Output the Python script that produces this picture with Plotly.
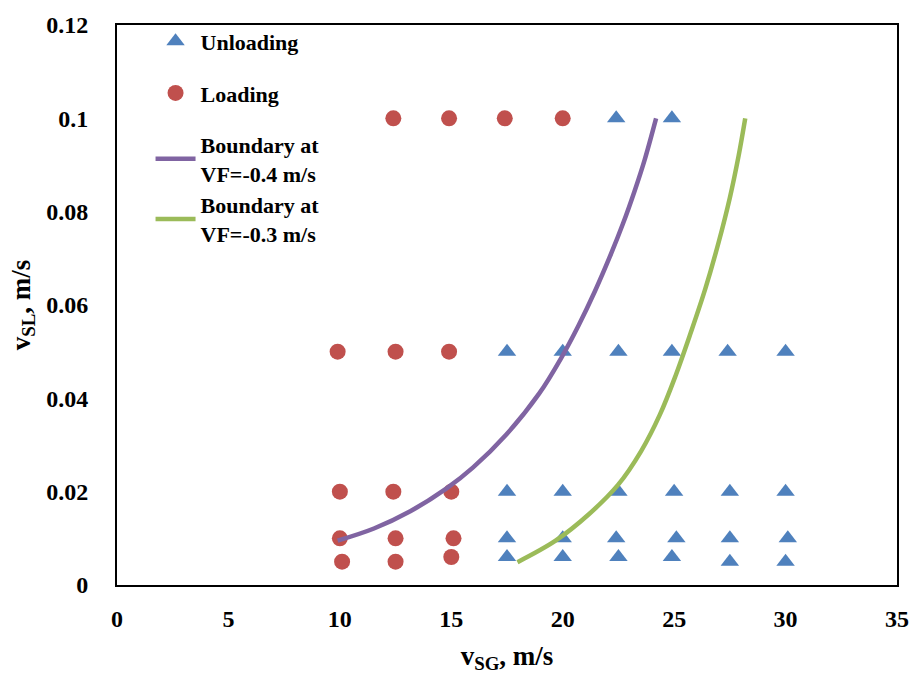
import plotly.graph_objects as go

# Data
unload_x = [22.4, 24.9,
            17.5, 20.0, 22.5, 24.9, 27.4, 30.0,
            17.5, 20.0, 22.5, 25.0, 27.5, 30.0,
            17.5, 20.0, 22.4, 25.1, 27.5, 30.1,
            17.5, 20.0, 22.5, 24.9, 27.5, 30.0]
unload_y = [0.1, 0.1,
            0.05, 0.05, 0.05, 0.05, 0.05, 0.05,
            0.02, 0.02, 0.02, 0.02, 0.02, 0.02,
            0.01, 0.01, 0.01, 0.01, 0.01, 0.01,
            0.006, 0.006, 0.006, 0.006, 0.005, 0.005]

load_x = [12.4, 14.9, 17.4, 20.0,
          9.9, 12.5, 14.9,
          10.0, 12.4, 15.0,
          10.0, 12.5, 15.1,
          10.1, 12.5, 15.0]
load_y = [0.1, 0.1, 0.1, 0.1,
          0.05, 0.05, 0.05,
          0.02, 0.02, 0.02,
          0.01, 0.01, 0.01,
          0.005, 0.005, 0.006]

b04_x = [9.9, 11.53, 13.16, 14.79, 15.98, 17.46, 18.94, 19.95, 20.71, 21.45, 22.12, 22.71, 23.23, 23.67, 24.19]
b04_y = [0.0095, 0.0121, 0.0158, 0.0207, 0.0252, 0.0322, 0.0410, 0.0488, 0.0556, 0.0630, 0.0704, 0.0775, 0.0845, 0.0910, 0.1000]

b03_x = [17.97, 19.68, 21.16, 22.49, 23.52, 24.36, 25.06, 25.74, 26.40, 27.00, 27.50, 27.89, 28.19]
b03_y = [0.0049, 0.0095, 0.0151, 0.0215, 0.0287, 0.0365, 0.0448, 0.0540, 0.0635, 0.0735, 0.0830, 0.0919, 0.1000]

x_ticks = [0, 5, 10, 15, 20, 25, 30, 35]
y_ticks = [0, 0.02, 0.04, 0.06, 0.08, 0.1, 0.12]
y_ticktext = ["0", "0.02", "0.04", "0.06", "0.08", "0.1", "0.12"]

FONT = "Liberation Serif"

fig = go.Figure()
fig.add_trace(go.Scatter(x=unload_x, y=unload_y, mode="markers", name="<b>Unloading</b>",
                         legendgroup="a",
                         marker=dict(symbol="triangle-up", size=16, color="#4F81BD")))
fig.add_trace(go.Scatter(x=load_x, y=load_y, mode="markers", name="<b>Loading</b>",
                         legendgroup="b",
                         marker=dict(symbol="circle", size=16, color="#C0504D")))
fig.add_trace(go.Scatter(x=b04_x, y=b04_y, mode="lines", name="<b>Boundary at<br>VF=-0.4 m/s</b>",
                         legendgroup="c",
                         line=dict(color="#8064A2", width=4.5, shape="spline", smoothing=1.0)))
fig.add_trace(go.Scatter(x=b03_x, y=b03_y, mode="lines", name="<b>Boundary at<br>VF=-0.3 m/s</b>",
                         legendgroup="c",
                         line=dict(color="#9BBB59", width=4.5, shape="spline", smoothing=1.0)))

fig.update_layout(
    width=921, height=681,
    margin=dict(l=117, r=16, t=17, b=96),
    paper_bgcolor="white", plot_bgcolor="white",
    font=dict(family=FONT, size=22, color="black"),
    showlegend=True,
    legend=dict(x=0.043, y=1.008, xanchor="left", yanchor="top",
                bgcolor="rgba(0,0,0,0)", font=dict(family=FONT, size=22, color="black"),
                tracegroupgap=20, itemwidth=40),
    xaxis=dict(range=[0, 35], tickvals=x_ticks, showgrid=False, zeroline=False,
               showline=True, linecolor="black", linewidth=2, mirror=True, ticks="",
               tickfont=dict(family=FONT, size=24, color="black", weight="bold"),
               ticklabelstandoff=11,
               title=dict(text="<b>v<sub>SG</sub>, m/s</b>", font=dict(family=FONT, size=27), standoff=15)),
    yaxis=dict(range=[0, 0.12], tickvals=y_ticks, ticktext=y_ticktext, showgrid=False, zeroline=False,
               showline=True, linecolor="black", linewidth=2, mirror=True, ticks="",
               tickfont=dict(family=FONT, size=24, color="black", weight="bold"),
               ticklabelstandoff=22,
               title=dict(text="<b>v<sub>SL</sub>, m/s</b>", font=dict(family=FONT, size=27), standoff=8)),
)

fig.write_html("out.html")
